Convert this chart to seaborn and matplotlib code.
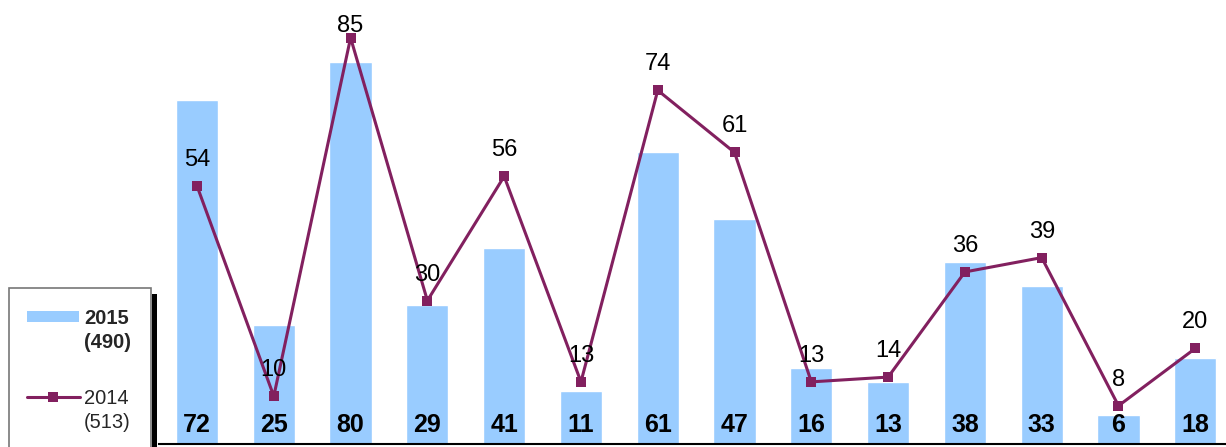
import matplotlib
matplotlib.use("Agg")
import matplotlib.pyplot as plt
from matplotlib.patches import Rectangle
from matplotlib.lines import Line2D
import pandas as pd
import seaborn as sns

# ── data ──────────────────────────────
categories = ["1", "2", "3", "4", "5", "6", "7", "8", "9", "10", "11", "12", "13", "14"]
values_2015 = [72, 25, 80, 29, 41, 11, 61, 47, 16, 13, 38, 33, 6, 18]
values_2014 = [54, 10, 85, 30, 56, 13, 74, 61, 13, 14, 36, 39, 8, 20]
legend_2015 = ["2015", "(490)"]
legend_2014 = ["2014", "(513)"]

BAR_COLOR = "#99CCFF"
LINE_COLOR = "#82205F"

sns.set_theme(style="white")
plt.rcParams["font.family"] = ["Liberation Sans", "DejaVu Sans"]

df = pd.DataFrame({"cat": categories, "y2015": values_2015, "y2014": values_2014})
df["pos"] = range(len(df))

fig = plt.figure(figsize=(12.26, 4.47), dpi=100)
ax = fig.add_axes([159 / 1226, 3 / 447, 1067 / 1226, 444 / 447])

sns.barplot(data=df, x="cat", y="y2015", color=BAR_COLOR, width=0.55,
            saturation=1, ax=ax, zorder=1)
sns.lineplot(data=df, x="pos", y="y2014", color=LINE_COLOR, linewidth=2.2,
             marker="s", markersize=7.5, markeredgewidth=0, ax=ax, zorder=3)

ax.set_xlim(-0.495, 13.4)
ax.set_ylim(0, 92.9)

# bar labels (bold, inside bottom of bars)
for i, v in enumerate(values_2015):
    ax.text(i, 2.5, str(v), ha="center", va="baseline", fontsize=18,
            fontweight="bold", color="black", zorder=4)

# line labels (above markers, kept under the top edge)
for i, v in enumerate(values_2014):
    ax.text(i, min(v + 4.2, 86.2), str(v), ha="center", va="baseline",
            fontsize=17, color="black", zorder=4)

ax.set_xlabel("")
ax.set_ylabel("")
ax.set_xticks([])
ax.set_yticks([])
for side in ["left", "right", "top"]:
    ax.spines[side].set_visible(False)
ax.spines["bottom"].set_color("black")
ax.spines["bottom"].set_linewidth(1.5)
ax.grid(False)

# ── legend box (drawn in figure pixels) ────────────
H = 447
def fy(py):
    return (H - py) / H

def fx(px):
    return px / 1226

fig.patches.append(Rectangle((fx(152), fy(460)), fx(5), fy(294) - fy(460),
                             transform=fig.transFigure, facecolor="black",
                             edgecolor="none", zorder=5))
fig.patches.append(Rectangle((fx(9), fy(460)), fx(142), fy(288) - fy(460),
                             transform=fig.transFigure, facecolor="white",
                             edgecolor="#777777", linewidth=1.2, zorder=6))
fig.patches.append(Rectangle((fx(27), fy(322)), fx(52), fy(311) - fy(322),
                             transform=fig.transFigure, facecolor=BAR_COLOR,
                             edgecolor="none", zorder=7))
fig.lines.append(Line2D([fx(27), fx(80)], [fy(397), fy(397)],
                        transform=fig.transFigure, color=LINE_COLOR,
                        linewidth=2.2, zorder=7))
fig.lines.append(Line2D([fx(53)], [fy(397)], transform=fig.transFigure,
                        color=LINE_COLOR, marker="s", markersize=7.5,
                        markeredgewidth=0, zorder=8))
for k, line in enumerate(legend_2015):
    fig.text(fx(84), fy(324 + 24 * k), line, ha="left", va="baseline",
             fontsize=14.5, fontweight="bold", zorder=8)
for k, line in enumerate(legend_2014):
    fig.text(fx(84), fy(404 + 24 * k), line, ha="left", va="baseline",
             fontsize=14.5, zorder=8)

plt.savefig("out.png", dpi=100)
plt.close()
